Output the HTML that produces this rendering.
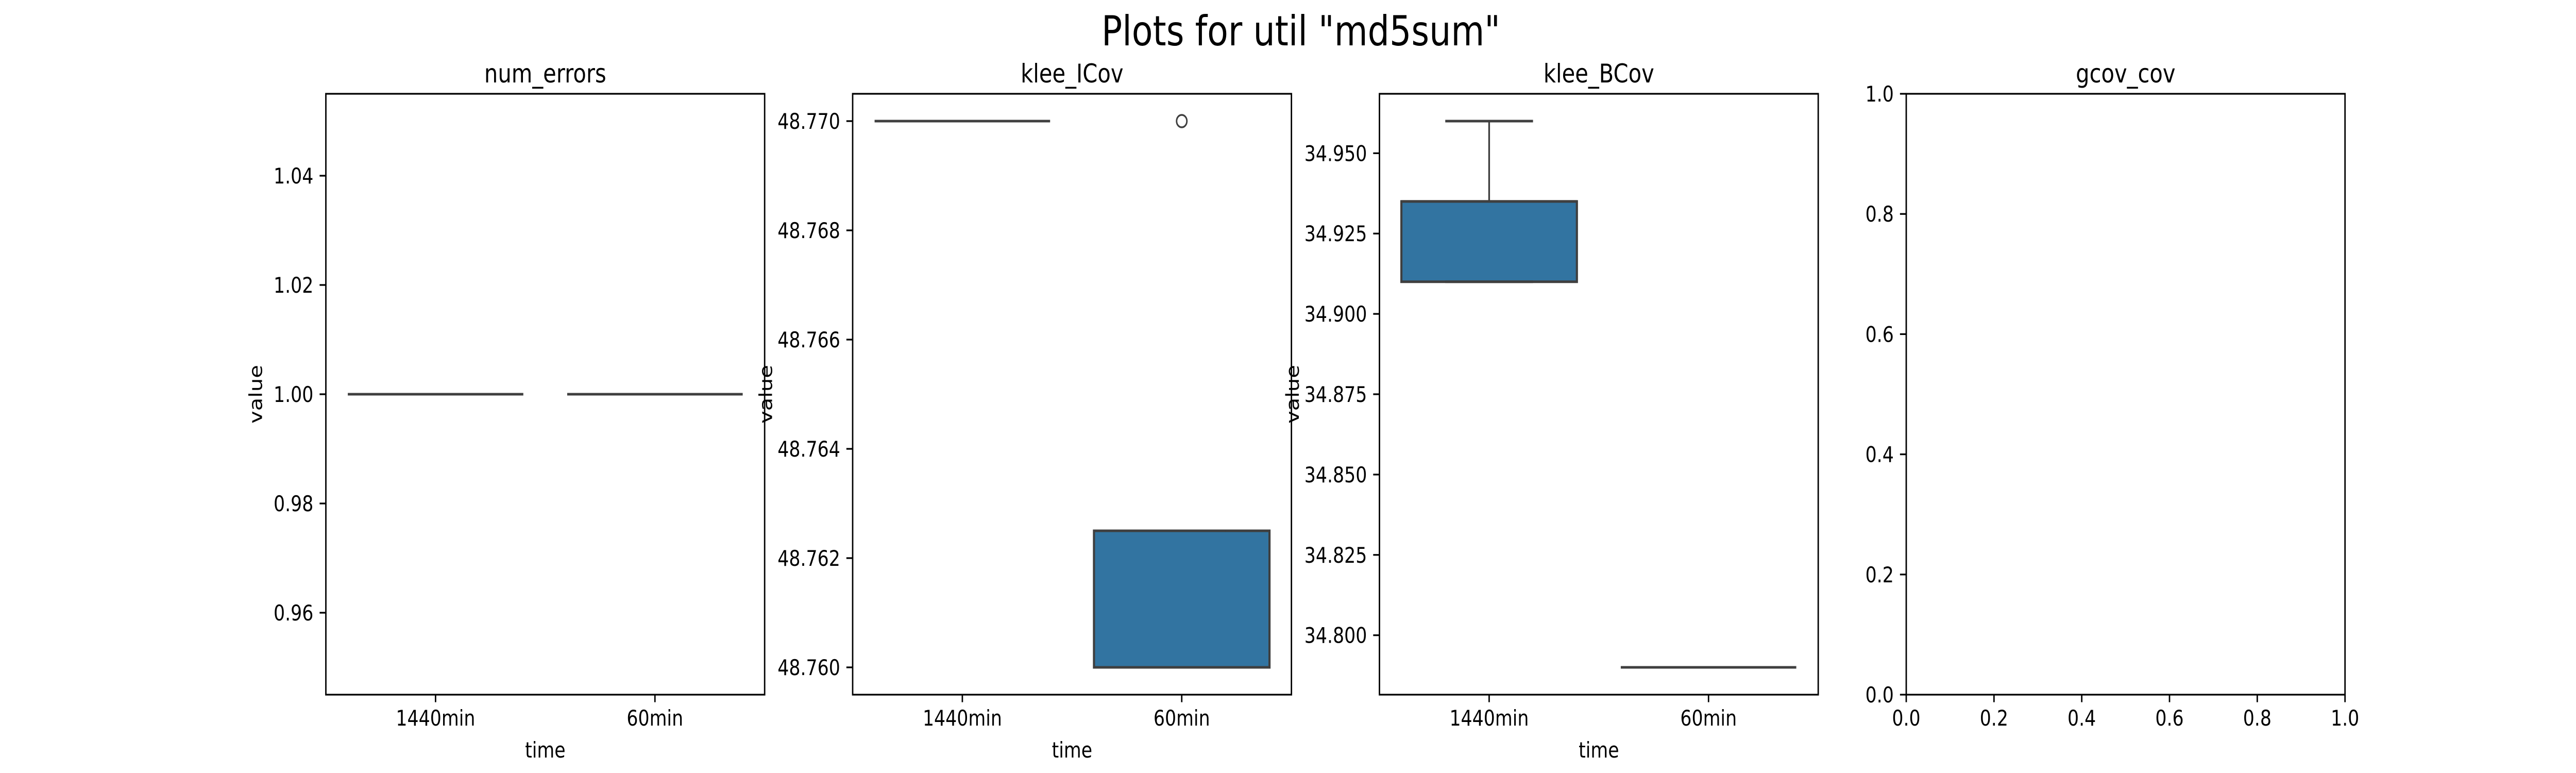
<!DOCTYPE html>
<html><head><meta charset="utf-8"><style>
html,body{margin:0;padding:0;background:#fff;overflow:hidden;width:100%;height:100%}
svg{display:block;width:100vw;height:100vh}
text{font-family:"DejaVu Sans","Liberation Sans",sans-serif;fill:#000}
</style></head><body>
<svg id="fig" viewBox="0 0 6000 1500" preserveAspectRatio="none" xmlns="http://www.w3.org/2000/svg">
<rect width="6000" height="1500" fill="#fff"/>
<text x="3030" y="88" font-size="80" text-anchor="middle">Plots for util "md5sum"</text>
<g id="plots"></g>
</svg>
<script>
const categories = ["1440min", "60min"];
const panelTitles = ["num_errors", "klee_ICov", "klee_BCov", "gcov_cov"];
// box stats per panel per category: [q1, median, q3, whiskerLow, whiskerHigh]
const numErrorsBoxes = [[1.0,1.0,1.0,1.0,1.0],[1.0,1.0,1.0,1.0,1.0]];
const kleeICovBoxes = [[48.770,48.770,48.770,48.770,48.770],[48.760,48.760,48.7625,48.760,48.7625]];
const kleeICovOutliers = [[],[48.770]];
const kleeBCovBoxes = [[34.910,34.935,34.935,34.910,34.960],[34.790,34.790,34.790,34.790,34.790]];
const numErrorsTicks = [0.96,0.98,1.00,1.02,1.04];
const kleeICovTicks = [48.760,48.762,48.764,48.766,48.768,48.770];
const kleeBCovTicks = [34.800,34.825,34.850,34.875,34.900,34.925,34.950];
const gcovTicks = [0.0,0.2,0.4,0.6,0.8,1.0];
const ylims = [[0.945,1.055],[48.7595,48.7705],[34.7815,34.9685],[0,1]];
const decimals = [2,3,3,1];

const NS="http://www.w3.org/2000/svg";
const root=document.getElementById('plots');
const lefts=[759,1986,3213,4440], W=1022, TOP=182, BOT=1348;
function mk(tag,attrs,parent){const e=document.createElementNS(NS,tag);for(const k in attrs)e.setAttribute(k,attrs[k]);(parent||root).appendChild(e);return e;}
const panels=[
 {boxes:numErrorsBoxes,out:[[],[]],ticks:numErrorsTicks},
 {boxes:kleeICovBoxes,out:kleeICovOutliers,ticks:kleeICovTicks},
 {boxes:kleeBCovBoxes,out:[[],[]],ticks:kleeBCovTicks},
 {boxes:null,out:null,ticks:gcovTicks}
];
panels.forEach((p,i)=>{
  const L=lefts[i];
  const g=mk('g',{});
  
  
  const [y0,y1]=ylims[i];
  const ys=v=>BOT-(v-y0)/(y1-y0)*(BOT-TOP);
  const xs=j=>L+W*(j+0.5)/categories.length;
  const t=mk('text',{x:L+W/2,y:TOP-22,'font-size':50,'text-anchor':'middle'},g);t.textContent=panelTitles[i];
  
  
  p.ticks.forEach(v=>{
    const y=ys(v);
    mk('line',{x1:L-14.6,x2:L,y1:y,y2:y,stroke:'#000','stroke-width':3.3},g);
    const tl=mk('text',{x:L-29,y:y+15,'font-size':41.7,'text-anchor':'end'},g);tl.textContent=v.toFixed(decimals[i]);
    
    
  });
  if(p.boxes){
    categories.forEach((c,j)=>{
      const x=xs(j);
      mk('line',{x1:x,x2:x,y1:BOT,y2:BOT+14.6,stroke:'#000','stroke-width':3.3},g);
      const cl=mk('text',{x:x,y:BOT+60,'font-size':41.7,'text-anchor':'middle'},g);cl.textContent=c;
      
      
      const [q1,med,q3,wl,wh]=p.boxes[j];
      const bw=W/categories.length*0.8;
      const bx=mk('g',{},g);
      
      
      if(q3>q1){
        mk('rect',{x:x-bw/2,y:ys(q3),width:bw,height:ys(q1)-ys(q3),fill:'#3274a1',stroke:'#3f3f3f','stroke-width':5},bx);
      }
      mk('line',{x1:x,x2:x,y1:ys(q3),y2:ys(wh),stroke:'#3f3f3f','stroke-width':4},bx);
      mk('line',{x1:x,x2:x,y1:ys(q1),y2:ys(wl),stroke:'#3f3f3f','stroke-width':4},bx);
      mk('line',{x1:x-bw/4,x2:x+bw/4,y1:ys(wh),y2:ys(wh),stroke:'#3f3f3f','stroke-width':5},bx);
      mk('line',{x1:x-bw/4,x2:x+bw/4,y1:ys(wl),y2:ys(wl),stroke:'#3f3f3f','stroke-width':5},bx);
      mk('line',{x1:x-bw/2,x2:x+bw/2,y1:ys(med),y2:ys(med),stroke:'#3f3f3f','stroke-width':5},bx);
      p.out[j].forEach(v=>{
        const o=mk('circle',{cx:x,cy:ys(v),r:12,fill:'none',stroke:'#3f3f3f','stroke-width':3.5},bx);
        
        
      });
    });
    const xl=mk('text',{x:L+W/2,y:1470,'font-size':41.7,'text-anchor':'middle'},g);xl.textContent='time';
    
    
    const yl=mk('text',{x:0,y:0,'font-size':41.7,'text-anchor':'middle',transform:`translate(${i==0?610:L-210+22},${(TOP+BOT)/2}) rotate(-90)`},g);yl.textContent='value';
    
    
  } else {
    gcovTicks.forEach(v=>{
      const x=L+v*W;
      mk('line',{x1:x,x2:x,y1:BOT,y2:BOT+14.6,stroke:'#000','stroke-width':3.3},g);
      const xt=mk('text',{x:x,y:BOT+60,'font-size':41.7,'text-anchor':'middle'},g);xt.textContent=v.toFixed(1);
      
      
    });
  }
  const fr=mk('rect',{x:L,y:TOP,width:W,height:BOT-TOP,fill:'none',stroke:'#000','stroke-width':3.3},g);
  
  
});
</script>
</body></html>
